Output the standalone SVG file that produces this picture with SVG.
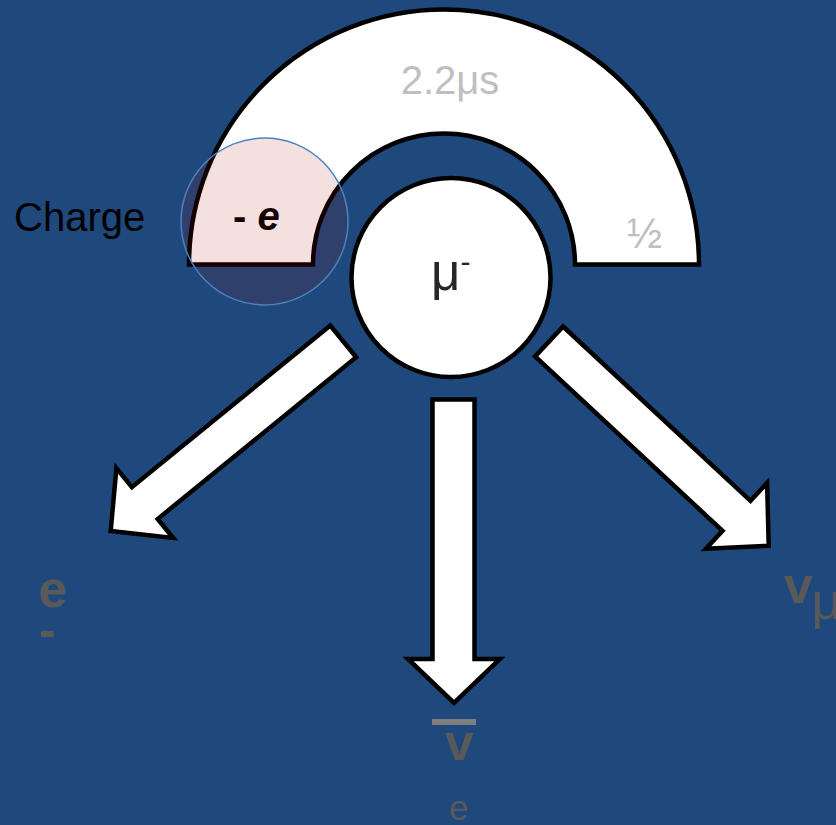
<svg xmlns="http://www.w3.org/2000/svg" width="836" height="825" viewBox="0 0 836 825">
  <style>
    .shape { fill: #FFFFFF; stroke: #000000; stroke-width: 4.5; stroke-linejoin: miter; }
    .sans { font-family: "Liberation Sans", Arial, sans-serif; }
    .lbl { fill: #595959; font-weight: bold; }
    .lite { fill: #BFBFBF; }
  </style>
  <rect x="0" y="0" width="836" height="825" fill="#1F497D"/>

  <g id="connectors">
    <polygon class="shape" points="330.3,325.5 131.9,487.2 116.4,468.2 110.7,530.9 173.2,538 157.7,519 356.2,357.3"/>
    <polygon class="shape" points="432.5,399.5 474.5,399.5 474.5,659 500,659 454,703 408,659 432.5,659"/>
    <polygon class="shape" points="563.1,326.5 750.5,500.8 767.1,482.9 768.7,545.8 705.9,548.7 722.5,530.8 535.1,356.5"/>
  </g>

  <g id="arch">
    <path class="shape" d="M 189 264.5 A 255 255 0 0 1 699 264.5 L 575 264.5 A 131 131 0 0 0 313 264.5 Z"/>
    <text class="sans lite" x="450" y="94" font-size="40" text-anchor="middle">2.2μs</text>
    <text class="sans lite" x="627" y="248" font-size="42">½</text>
  </g>

  <g id="charge">
    <text class="sans" x="14" y="231" font-size="40" fill="#000000">Charge</text>
    <text class="sans" x="233" y="230" font-size="40" font-weight="bold" fill="#000000">- <tspan font-style="italic">e</tspan></text>
    <circle cx="264.5" cy="221.5" r="83.5" fill="#B00000" fill-opacity="0.12" stroke="#4F81BD" stroke-width="1.5"/>
  </g>

  <g id="muon">
    <circle class="shape" cx="451" cy="277.5" r="99.5"/>
    <text class="sans" x="431" y="290" font-size="51" fill="#262626">μ<tspan font-size="30" dy="-18">-</tspan></text>
  </g>

  <g id="electron">
    <text class="sans lbl" x="38.5" y="607" font-size="52">e</text>
    <text class="sans lbl" x="39" y="647" font-size="50">-</text>
  </g>

  <g id="muon-neutrino">
    <text class="sans lbl" x="784" y="603" font-size="52">v</text>
    <text class="sans" x="811.5" y="619" font-size="52" fill="#595959">μ</text>
  </g>

  <g id="electron-antineutrino">
    <rect x="432" y="719" width="44" height="6" fill="#7F7F7F"/>
    <text class="sans lbl" x="445" y="760" font-size="52">v</text>
    <text class="sans" x="449" y="820" font-size="35" fill="#595959">e</text>
  </g>
</svg>
